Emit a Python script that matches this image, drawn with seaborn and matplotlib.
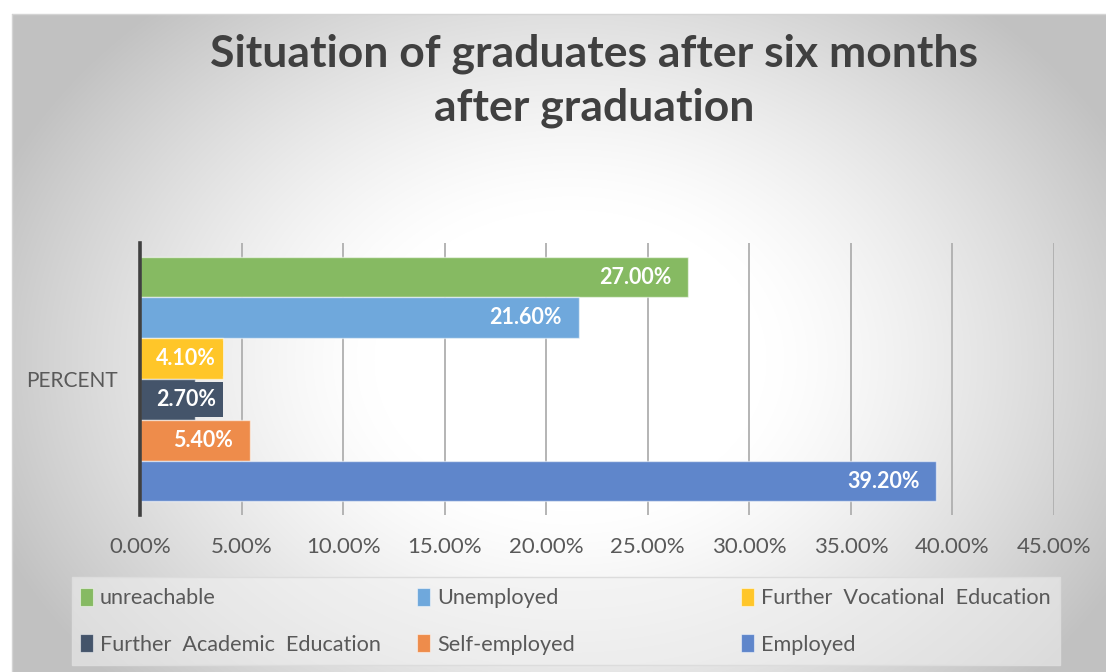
import numpy as np
import pandas as pd
import matplotlib
matplotlib.use("Agg")
import matplotlib.pyplot as plt
import seaborn as sns
from matplotlib.patches import Patch, Rectangle

# ---- data ----
group = "PERCENT"
statuses = ["unreachable", "Unemployed", "Further  Vocational  Education",
            "Further  Academic  Education", "Self-employed", "Employed"]
values = [27.0, 21.6, 4.1, 2.7, 5.4, 39.2]
value_labels = ["27.00%", "21.60%", "4.10%", "2.70%", "5.40%", "39.20%"]
colors = ["#86BA62", "#6FA8DC", "#FFC629", "#44546A", "#EE8C4B", "#5F86CB"]
xticks = [0, 5, 10, 15, 20, 25, 30, 35, 40, 45]
xtick_labels = ["0.00%", "5.00%", "10.00%", "15.00%", "20.00%", "25.00%",
                "30.00%", "35.00%", "40.00%", "45.00%"]
title = "Situation of graduates after six months\nafter graduation"

df = pd.DataFrame({"group": group, "status": statuses, "value": values})

sns.set_theme(style="white")
plt.rcParams["font.family"] = ["Lato", "DejaVu Sans"]

W, H, DPI = 1106, 672, 100
fig = plt.figure(figsize=(W / DPI, H / DPI), dpi=DPI)
fig.patch.set_facecolor("white")

# ---- radial grey-to-white background of the chart frame ----
bg = fig.add_axes([0, 0, 1, 1], zorder=-10)
bg.set_axis_off()
yy, xx = np.mgrid[0:H, 0:W]
r = np.sqrt(((xx - 570) / 560.0) ** 2 + ((yy - 360) / 430.0) ** 2)
t = np.clip((r - 0.35) / 0.75, 0, 1)
shade = 1.0 - 0.24 * t ** 1.3
img = np.dstack([shade, shade, shade])
img[:14, :, :] = 1.0
img[:, :12, :] = 1.0
bg.imshow(img, extent=[0, W, H, 0], aspect="auto", interpolation="bilinear")
bg.plot([12, W], [14, 14], color="#D4D4D4", lw=1)
bg.plot([12, 12], [14, H], color="#D4D4D4", lw=1)
bg.set_xlim(0, W)
bg.set_ylim(H, 0)

# ---- bars ----
ax_l, ax_r, ax_t, ax_b = 140, 1054, 243, 515
ax = fig.add_axes([ax_l / W, 1 - ax_b / H, (ax_r - ax_l) / W, (ax_b - ax_t) / H])
ax.set_facecolor("none")
sns.barplot(data=df, x="value", y="group", hue="status", hue_order=statuses,
            palette=colors, saturation=1, orient="h", width=0.9, gap=0.0,
            legend=False, edgecolor=(1, 1, 1, 0.55), linewidth=1.0, ax=ax,
            zorder=2)

ax.set_xlim(0, 45)
ax.set_xticks(xticks)
ax.set_xticklabels(xtick_labels)
ax.set_xlabel("")
ax.set_ylabel("")
ax.grid(axis="x", color="#AFAFAF", lw=1.3, zorder=0)
ax.grid(axis="y", visible=False)
for s in ["top", "right", "bottom"]:
    ax.spines[s].set_visible(False)
ax.spines["left"].set_color("#404040")
ax.spines["left"].set_linewidth(2.6)
ax.spines["left"].set_zorder(5)
ax.tick_params(axis="x", length=0, pad=16, labelsize=16, labelcolor="#595959")
ax.tick_params(axis="y", length=0, pad=16, labelsize=15, labelcolor="#595959")

# ---- value labels on filled boxes, inside the bar end ----
texts = []
for cont, lab, col in zip(ax.containers, value_labels, colors):
    tx = ax.bar_label(cont, labels=[lab], padding=-12, color="white",
                      fontsize=15.5, fontweight="bold",
                      bbox=dict(boxstyle="square,pad=0.34", fc=col, ec="none"),
                      zorder=4)
    for tt in tx:
        tt.set_ha("right")
        tt.set_va("center")
    texts.extend(tx)

fig.canvas.draw()
rend = fig.canvas.get_renderer()
left_min = ax.transData.transform((0, 0))[0] + 16
for tt in texts:
    bb = tt.get_window_extent(rend)
    if bb.x0 < left_min:
        shift_pt = (left_min - bb.x0) * 72.0 / DPI
        tt.xyann = (tt.xyann[0] + shift_pt, tt.xyann[1])

# ---- title ----
fig.text(594 / W, 1 - 81 / H, title, ha="center", va="center",
         fontsize=32, fontweight="bold", color="#404040", linespacing=1.42)

# ---- legend box and three legend columns ----
box = Rectangle((72 / W, 1 - 665 / H), (1060 - 72) / W, (665 - 577) / H,
                transform=fig.transFigure, fc=(0.95, 0.95, 0.95, 0.55),
                ec="#DCDCDC", lw=1, zorder=-5)
fig.patches.append(box)

handles = [Patch(facecolor=c, edgecolor=(1, 1, 1, 0.5), lw=0.8) for c in colors]
columns = [(80, [0, 3]), (417, [1, 4]), (741, [2, 5])]
for x0, idx in columns:
    leg = fig.legend([handles[i] for i in idx], [statuses[i] for i in idx],
                     loc="upper left", bbox_to_anchor=(x0 / W, 1 - 588 / H),
                     frameon=False, fontsize=15.6, handlelength=0.62,
                     handleheight=0.9, handletextpad=0.3, labelspacing=1.2,
                     borderpad=0, borderaxespad=0, labelcolor="#595959")

fig.savefig("out.png", dpi=DPI)
